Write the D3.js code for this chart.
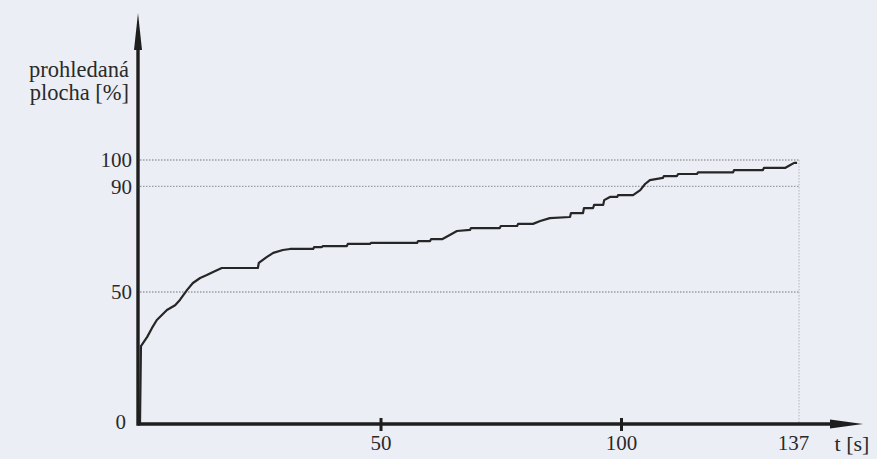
<!DOCTYPE html>
<html>
<head>
<meta charset="utf-8">
<script src="https://cdn.jsdelivr.net/npm/d3@7"></script>
<style>
  html, body { margin: 0; padding: 0; background: #eceef5; }
  svg { display: block; }
  .ser { font-family: "Liberation Serif", Tinos, "Times New Roman", Times, serif; }
</style>
</head>
<body>
<svg id="chart" width="877" height="459"></svg>
<script>
// ---- data ----
const times = [0, 0.2, 1.5, 2.5, 3.5, 5.6, 7.3, 8.3, 9.8, 11, 12.5, 13.9, 15.2, 17, 24.5, 24.7, 26.4, 27.7, 29.7, 31.2,
  36, 36.2, 37.8, 38, 43, 43.2, 47.8, 48, 57.6, 57.8, 60.3, 60.5, 62.8, 64.4, 65.9, 68.6, 68.8, 74.8, 75, 78.4, 78.6,
  81.7, 83.2, 85.2, 89.4, 89.6, 92.1, 92.3, 94.2, 94.4, 96.3, 96.5, 97.7, 99.2, 99.4, 102.5, 104, 105, 106, 108.7,
  108.9, 111.6, 111.9, 115.8, 116, 123.3, 123.5, 129.5, 129.7, 134.1, 135.1, 136, 136.6];
const area = [0, 29.5, 33, 36.4, 39.4, 43.2, 45, 47, 50.8, 53.4, 55.3, 56.4, 57.6, 59.1, 59.1, 61, 63.3, 64.8, 65.9, 66.3,
  66.3, 67, 67, 67.4, 67.4, 68.2, 68.2, 68.6, 68.6, 69.3, 69.3, 70, 70, 71.6, 73.1, 73.5, 74.2, 74.2, 75, 75, 75.8,
  75.8, 76.9, 78, 78.4, 79.9, 79.9, 81.8, 81.8, 83, 83, 84.8, 86, 86, 86.7, 86.7, 88.6, 90.9, 92.4, 93.2,
  93.9, 93.9, 94.7, 94.7, 95.3, 95.3, 96.2, 96.2, 97, 97, 98, 98.9, 98.9];
const xTicks = [50, 100, 137];
const yTicks = [0, 50, 90, 100];
const gridValues = [50, 90, 100];
const tMax = 137;
const yLabelLines = ["prohledaná", "plocha [%]"];
const xLabel = "t [s]";

const data = times.map((t, i) => ({ t, v: area[i] }));

// ---- layout ----
const svg = d3.select("#chart");
const x = d3.scaleLinear().domain([0, 137]).range([140, 799]);
const y = d3.scaleLinear().domain([0, 100]).range([424, 160]);
const ink = "#1e1e1e";

// grid lines (dotted)
svg.append("g").selectAll("line").data(gridValues).join("line")
  .attr("x1", x(0)).attr("x2", x(tMax))
  .attr("y1", d => y(d)).attr("y2", d => y(d))
  .attr("stroke", "#9a9ca4").attr("stroke-width", 1.4)
  .attr("stroke-dasharray", "1.5,1.5");

svg.append("line")
  .attr("x1", x(tMax)).attr("x2", x(tMax))
  .attr("y1", y(100)).attr("y2", y(0))
  .attr("stroke", "#b4b6bd").attr("stroke-width", 1)
  .attr("stroke-dasharray", "1.5,1.5");

// data line
const line = d3.line().x(d => x(d.t)).y(d => y(d.v));
svg.append("path").datum(data)
  .attr("d", line)
  .attr("fill", "none")
  .attr("stroke", "#262626")
  .attr("stroke-width", 2.2)
  .attr("stroke-linejoin", "round");

// x axis
const xAxis = d3.axisBottom(x).tickValues(xTicks).tickSize(6).tickPadding(5).tickFormat(d3.format("d"));
const gx = svg.append("g").attr("transform", `translate(0,${y(0)})`).call(xAxis)
  .attr("font-family", null).attr("font-size", 21).attr("class", "ser");
gx.select(".domain").remove();
gx.selectAll(".tick line").attr("y1", -6).attr("y2", 7).attr("stroke", ink).attr("stroke-width", 3)
  .filter(d => d === 137).remove();
gx.selectAll(".tick text").attr("fill", "#2a2a2a")
  .attr("dx", d => d === 137 ? -6 : 0);

// y axis labels
const yAxis = d3.axisLeft(y).tickValues(yTicks).tickSize(0).tickPadding(8).tickFormat(d3.format("d"));
const gy = svg.append("g").attr("transform", `translate(${x(0)},0)`).call(yAxis)
  .attr("font-family", null).attr("font-size", 21).attr("class", "ser");
gy.select(".domain").remove();
gy.selectAll(".tick text").attr("fill", "#2a2a2a")
  .attr("dx", d => d === 0 ? -6 : 0).attr("dy", d => d === 0 ? "0.2em" : "0.32em");

// axis lines with arrows
svg.append("line").attr("x1", x(0) - 2).attr("x2", 832).attr("y1", y(0)).attr("y2", y(0))
  .attr("stroke", ink).attr("stroke-width", 3.4);
svg.append("path").attr("d", `M830,${y(0) - 4.5} L863,${y(0)} L830,${y(0) + 4.5} Z`).attr("fill", ink);

svg.append("line").attr("x1", x(0) - 2).attr("x2", x(0) - 2).attr("y1", y(0) + 1.7).attr("y2", 48)
  .attr("stroke", ink).attr("stroke-width", 3.4);
svg.append("path").attr("d", `M${x(0) - 6},50 L${x(0) - 2},13 L${x(0) + 2},50 Z`).attr("fill", ink);

// axis titles
svg.append("text").attr("class", "ser").attr("text-anchor", "end").attr("x", 129).attr("y", 77)
  .attr("font-size", 22.5).attr("fill", "#2a2a2a").text(yLabelLines[0]);
svg.append("text").attr("class", "ser").attr("text-anchor", "end").attr("x", 129).attr("y", 100)
  .attr("font-size", 22.5).attr("fill", "#2a2a2a").text(yLabelLines[1]);
svg.append("text").attr("class", "ser").attr("text-anchor", "middle").attr("x", 852).attr("y", 451)
  .attr("font-size", 22).attr("fill", "#2a2a2a").text(xLabel);
</script>
</body>
</html>
